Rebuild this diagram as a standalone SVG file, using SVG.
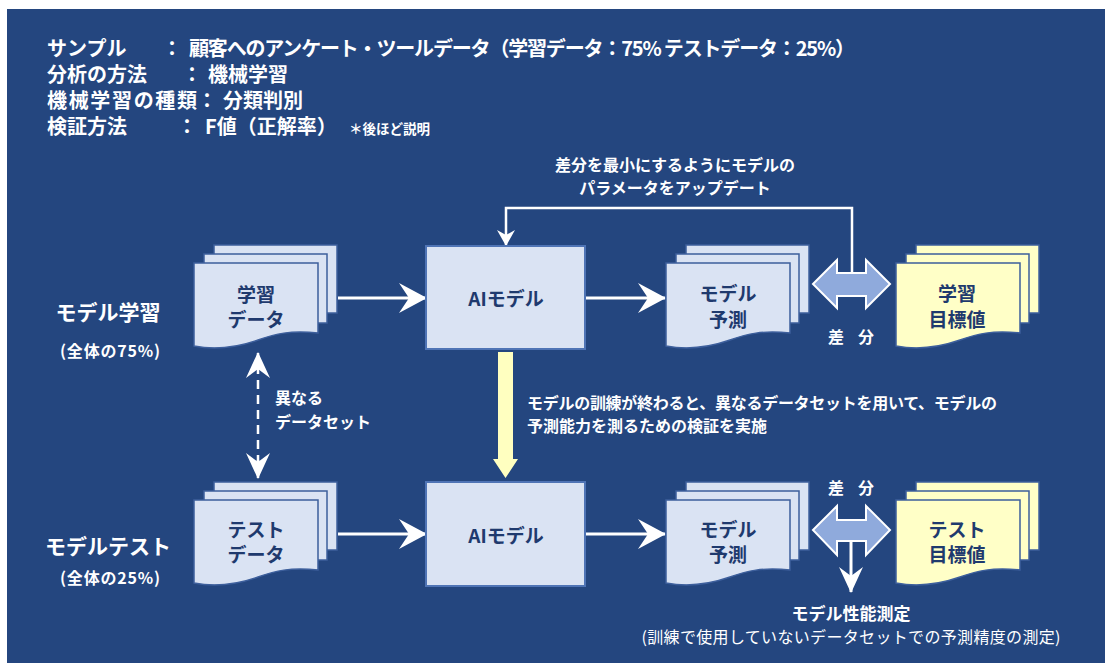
<svg xmlns="http://www.w3.org/2000/svg" xmlns:xlink="http://www.w3.org/1999/xlink" width="1105" height="663" viewBox="0 0 1105 663">
<style>
text{font-family:"Noto Sans CJK JP","Noto Sans CJK SC",sans-serif;font-weight:bold}
.w{fill:#ffffff}
.hd{font-size:20px}
.c{text-anchor:middle}
.n{fill:#1f3a6e;font-size:19px;text-anchor:middle}
.page{fill:#dae3f3;stroke:#3d5f9c;stroke-width:1.5}
.yel{fill:#ffffc7;stroke:#3d5f9c;stroke-width:1.5}
.box{fill:#dae3f3;stroke:#4f74b5;stroke-width:2}
.ln{stroke:#ffffff;stroke-width:3;fill:none}
.dbl{fill:#8faadc;stroke:#ffffff;stroke-width:2}
</style>
<defs>
<g id="stack">
<rect x="20" y="0" width="123" height="68"/>
<rect x="10" y="9" width="123" height="69"/>
<path d="M0,18 H124 V88 C96,85 81,89 64,95 C44,102 21,105 0,101 Z"/>
</g>
<marker id="ah" viewBox="0 0 28 30" refX="27" refY="15" markerWidth="28" markerHeight="30" orient="auto" markerUnits="userSpaceOnUse">
<path d="M0,0 L28,15 L0,30 L10,15 Z" fill="#ffffff"/>
</marker>
<marker id="ahs" viewBox="0 0 16 18" refX="15" refY="9" markerWidth="16" markerHeight="18" orient="auto" markerUnits="userSpaceOnUse">
<path d="M0,0 L16,9 L0,18 L5,9 Z" fill="#ffffff"/>
</marker>
<marker id="ahd" viewBox="0 0 26 24" refX="25" refY="12" markerWidth="26" markerHeight="24" orient="auto" markerUnits="userSpaceOnUse">
<path d="M0,0 L26,12 L0,24 L9,12 Z" fill="#ffffff"/>
</marker>
</defs>
<rect x="7" y="9" width="1098" height="654" fill="#24467f"/>
<g id="header">
<text class="w hd" x="47" y="56">サンプル</text>
<text class="w hd c" x="172" y="56">：</text>
<text class="w hd" x="189" y="56" textLength="666" lengthAdjust="spacing">顧客へのアンケート・ツールデータ（学習データ：75% テストデータ：25%）</text>
<text class="w hd" x="47" y="82">分析の方法</text>
<text class="w hd c" x="192" y="82">：</text>
<text class="w hd" x="208" y="82">機械学習</text>
<text class="w hd" x="47" y="108" textLength="150" lengthAdjust="spacing">機械学習の種類</text>
<text class="w hd c" x="207" y="108">：</text>
<text class="w hd" x="223" y="108">分類判別</text>
<text class="w hd" x="47" y="134">検証方法</text>
<text class="w hd c" x="187" y="134">：</text>
<text class="w hd" x="205" y="134">F値（正解率）</text>
<text class="w" x="349" y="134" font-size="13.5">＊後ほど説明</text>
</g>
<g id="label-train">
<text class="w c" x="108" y="320" font-size="21">モデル学習</text>
<text class="w c" x="110" y="357" font-size="16" textLength="100" lengthAdjust="spacing">(全体の75%)</text>
</g>
<g id="label-test">
<text class="w c" x="108" y="554" font-size="21">モデルテスト</text>
<text class="w c" x="110" y="584" font-size="16" textLength="100" lengthAdjust="spacing">(全体の25%)</text>
</g>
<g id="connectors">
<line class="ln" x1="338" y1="298" x2="426" y2="298" marker-end="url(#ah)"/>
<line class="ln" x1="585" y1="298" x2="665" y2="298" marker-end="url(#ah)"/>
<line class="ln" x1="338" y1="534" x2="426" y2="534" marker-end="url(#ah)"/>
<line class="ln" x1="585" y1="534" x2="665" y2="534" marker-end="url(#ah)"/>
<polyline points="852,273 852,208 506,208 506,245" fill="none" stroke="#ffffff" stroke-width="2.5" marker-end="url(#ahs)"/>
<line x1="258" y1="365" x2="258" y2="466" stroke="#ffffff" stroke-width="2.5" stroke-dasharray="9,6"/>
<line x1="258" y1="370" x2="258" y2="353" stroke="#ffffff" stroke-width="2.5" marker-end="url(#ahd)"/>
<line x1="258" y1="460" x2="258" y2="478" stroke="#ffffff" stroke-width="2.5" marker-end="url(#ahd)"/>
<polygon points="498,352 513,352 513,459 518,459 505.5,478 493,459 498,459" fill="#ffffc0"/>
<polygon class="dbl" points="813,284 837,260 837,273 866,273 866,260 890,284 866,308 866,296 837,296 837,308"/>
<polygon class="dbl" points="813,530 837,506 837,520 866,520 866,506 890,530 866,555 866,541 837,541 837,555"/>
<line x1="851" y1="541" x2="851" y2="592" stroke="#ffffff" stroke-width="3" marker-end="url(#ahd)"/>
<text class="w c" x="675" y="171" font-size="16">差分を最小にするようにモデルの</text>
<text class="w c" x="675" y="194" font-size="16">パラメータをアップデート</text>
<text class="w c" x="836" y="343" font-size="16">差</text>
<text class="w c" x="866" y="343" font-size="16">分</text>
<text class="w c" x="836" y="494" font-size="16">差</text>
<text class="w c" x="866" y="494" font-size="16">分</text>
<text class="w" x="275" y="404" font-size="16">異なる</text>
<text class="w" x="275" y="428" font-size="16">データセット</text>
<text class="w" x="527" y="409" font-size="16" textLength="470" lengthAdjust="spacing">モデルの訓練が終わると、異なるデータセットを用いて、モデルの</text>
<text class="w" x="527" y="432" font-size="16">予測能力を測るための検証を実施</text>
<text class="w c" x="851" y="620" font-size="17">モデル性能測定</text>
<text class="c" x="851" y="643" font-size="16" style="font-weight:normal" fill="#ffffff" textLength="419" lengthAdjust="spacing">(訓練で使用していないデータセットでの予測精度の測定)</text>
</g>
<g id="train-data">
<use xlink:href="#stack" x="194" y="245" class="page"/>
<text class="n" x="256" y="302">学習</text>
<text class="n" x="256" y="327">データ</text>
</g>
<g id="ai-train">
<rect class="box" x="426" y="246" width="159" height="103"/>
<text class="n" x="506" y="306" font-size="20">AIモデル</text>
</g>
<g id="pred-train">
<use xlink:href="#stack" x="666" y="245" class="page"/>
<text class="n" x="728" y="301">モデル</text>
<text class="n" x="728" y="327">予測</text>
</g>
<g id="target-train">
<use xlink:href="#stack" x="896" y="245" class="yel"/>
<text class="n" x="957" y="301">学習</text>
<text class="n" x="957" y="327">目標値</text>
</g>
<g id="test-data">
<use xlink:href="#stack" x="194" y="482" class="page"/>
<text class="n" x="256" y="537">テスト</text>
<text class="n" x="256" y="562">データ</text>
</g>
<g id="ai-test">
<rect class="box" x="426" y="482" width="159" height="104"/>
<text class="n" x="506" y="543" font-size="20">AIモデル</text>
</g>
<g id="pred-test">
<use xlink:href="#stack" x="666" y="482" class="page"/>
<text class="n" x="728" y="537">モデル</text>
<text class="n" x="728" y="562">予測</text>
</g>
<g id="target-test">
<use xlink:href="#stack" x="896" y="482" class="yel"/>
<text class="n" x="957" y="537">テスト</text>
<text class="n" x="957" y="562">目標値</text>
</g>
</svg>
